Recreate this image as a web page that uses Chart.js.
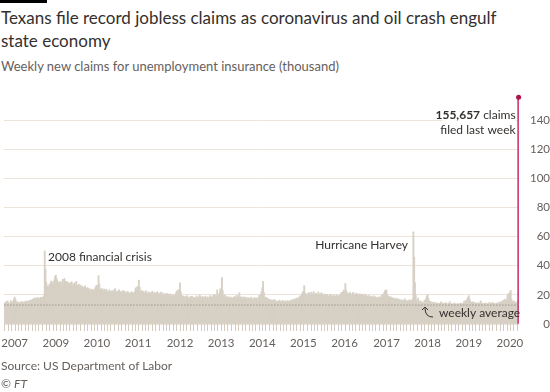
<!DOCTYPE html>
<html>
<head>
<meta charset="utf-8">
<script src="https://cdn.jsdelivr.net/npm/chart.js@4.4.1/dist/chart.umd.min.js"></script>
<style>
  html, body { margin: 0; padding: 0; background: #fff; }
  body { width: 550px; height: 392px; position: relative; overflow: hidden; font-family: Lato, 'Open Sans', sans-serif; }
  .topbar   { position: absolute; left: 0; top: 0; width: 47px; height: 3px; background: #000; }
  .title    { position: absolute; left: 1px; top: 6px; font-size: 17px; line-height: 23px; color: #33302e; }
  .subtitle { position: absolute; left: 1px; top: 57px; font-size: 13px; line-height: 18px; color: #66605c; }
  .chartBox { position: absolute; left: 0; top: 82px; width: 550px; height: 278px; }
  .source   { position: absolute; left: 1px; top: 357px; font-size: 12px; line-height: 18px; color: #66605c; }
  .source i { font-style: italic; }
</style>
</head>
<body>
<div class="topbar"></div>
<div class="title">Texans file record jobless claims as coronavirus and oil crash engulf<br>state economy</div>
<div class="subtitle">Weekly new claims for unemployment insurance (thousand)</div>
<div class="chartBox"><canvas id="claimsChart" width="550" height="278"></canvas></div>
<div class="source">Source: US Department of Labor<br>© <i>FT</i></div>

<script>
// ---- Data (thousand claims, one value per week, week ending Saturday) ----
// first week ends 6 Oct 2007
const firstWeekEnding = Date.UTC(2007, 9, 6);

const claims2007 = [14.6, 13.9, 15.2, 13.4, 15.8, 14.7, 14.1, 13.6, 16.0, 14.9, 15.4, 13.8, 17.2];
const claims2008 = [18.5, 16.9, 15.3, 14.6, 15.2, 14.4, 13.9, 15.0, 14.3, 15.5, 14.8, 13.7, 15.1,
  14.9, 15.8, 14.5, 15.3, 15.7, 14.9, 16.2, 15.4, 16.6, 16.0, 17.1, 16.3, 17.6, 17.9, 16.7, 17.4, 18.2,
  16.8, 17.7, 17.1, 18.4, 17.5, 17.9, 18.6, 19.4, 50.2, 37.5, 28.4, 24.6, 26.1, 24.2, 27.5, 25.8, 29.4,
  27.0, 28.8, 26.5, 30.2, 32.6];
const claims2009 = [33.5, 31.2, 29.8, 27.2, 28.6, 27.9, 29.4, 26.8, 28.1, 30.6, 27.4, 31.2, 28.9,
  29.3, 26.7, 28.8, 27.5, 26.4, 28.2, 27.1, 29.0, 25.8, 27.6, 26.2, 28.4, 27.0, 29.1, 26.5, 25.4, 27.3,
  25.1, 26.8, 24.6, 25.9, 24.2, 25.5, 23.8, 26.1, 24.4, 23.6, 25.0, 22.9, 24.3, 23.1, 22.4, 24.0, 23.3,
  21.8, 23.7, 22.5, 24.9, 26.2];
const claims2010 = [26.5, 24.1, 33.2, 27.4, 23.6, 22.8, 24.5, 23.1, 22.2, 24.0, 21.7, 22.9, 23.8,
  21.5, 22.6, 20.9, 23.4, 22.1, 21.3, 22.8, 20.6, 23.2, 21.9, 24.3, 22.0, 21.1, 22.7, 20.8, 23.5, 21.6,
  22.4, 20.5, 21.8, 23.0, 21.2, 22.5, 20.4, 21.9, 20.7, 22.3, 21.0, 19.8, 21.5, 20.3, 22.1, 20.9, 21.4,
  20.2, 22.6, 24.8, 23.1, 25.7];
const claims2011 = [24.6, 30.1, 25.2, 22.4, 21.8, 23.0, 20.9, 22.2, 21.5, 20.6, 22.8, 21.1, 20.3,
  22.0, 21.4, 19.9, 21.7, 20.5, 22.6, 21.0, 20.2, 21.8, 19.7, 20.9, 22.1, 20.4, 21.3, 19.8, 20.7, 21.9,
  20.1, 19.5, 21.2, 20.0, 19.3, 20.8, 19.6, 21.0, 19.4, 20.3, 19.0, 20.6, 19.2, 18.8, 20.1, 19.5, 18.7,
  19.9, 21.4, 22.7, 20.5, 23.6, 22.8];
const claims2012 = [28.3, 22.1, 19.6, 18.4, 19.2, 17.8, 18.9, 17.5, 18.6, 19.4, 17.9, 18.2, 17.1,
  18.8, 17.6, 19.0, 17.3, 18.5, 17.0, 18.1, 17.7, 19.3, 18.0, 17.4, 18.7, 19.8, 18.3, 17.2, 18.9, 17.8,
  18.4, 17.6, 19.1, 18.0, 17.5, 18.6, 17.3, 18.2, 19.5, 18.8, 17.9, 18.5, 19.7, 18.1, 20.3, 18.7, 19.2,
  23.4, 18.6, 19.9, 21.6, 24.2];
const claims2013 = [22.5, 31.8, 23.0, 19.4, 18.6, 19.9, 18.1, 17.7, 18.9, 17.4, 18.3, 17.0, 18.6,
  17.8, 16.9, 18.2, 17.5, 19.1, 17.2, 18.0, 19.6, 17.9, 18.4, 21.5, 18.8, 17.6, 18.3, 17.1, 18.7, 17.4,
  17.9, 18.5, 17.2, 16.8, 18.1, 17.5, 16.9, 17.8, 18.4, 17.0, 16.7, 17.6, 18.2, 16.9, 17.4, 18.0, 16.6,
  17.3, 19.6, 18.2, 20.4, 22.1];
const claims2014 = [24.8, 29.2, 21.6, 18.2, 17.1, 18.4, 16.8, 17.5, 16.2, 17.0, 15.9, 16.6, 15.4,
  16.3, 15.8, 16.9, 15.2, 16.0, 15.6, 14.9, 15.7, 15.1, 16.4, 14.8, 15.5, 15.0, 16.2, 14.7, 15.3, 15.9,
  14.6, 15.4, 16.1, 15.0, 15.7, 14.9, 16.3, 15.6, 16.8, 16.0, 16.5, 17.2, 16.4, 17.6, 16.9, 17.9, 17.3,
  18.6, 19.4, 18.1, 20.5, 21.8];
const claims2015 = [22.4, 26.3, 21.2, 19.8, 20.6, 19.1, 20.9, 21.5, 19.6, 20.3, 21.8, 19.4, 20.7,
  22.2, 20.0, 19.3, 21.1, 20.5, 19.7, 21.9, 20.2, 19.0, 20.8, 21.4, 19.5, 20.1, 19.2, 20.6, 18.9, 19.8,
  20.4, 19.1, 18.7, 19.6, 20.3, 18.8, 19.4, 18.5, 19.9, 18.9, 19.3, 18.6, 20.1, 19.0, 18.4, 19.7, 18.8,
  20.5, 21.7, 19.6, 22.0, 23.3];
const claims2016 = [21.4, 27.8, 22.9, 20.5, 21.3, 19.9, 20.8, 21.6, 20.2, 19.5, 20.9, 21.7, 20.1,
  19.3, 20.6, 21.2, 19.7, 20.4, 19.0, 20.8, 19.5, 20.2, 18.8, 19.9, 20.5, 18.9, 19.4, 20.1, 18.6, 19.2,
  18.4, 19.6, 18.7, 18.2, 19.1, 17.9, 18.5, 19.3, 17.8, 18.6, 18.0, 17.6, 18.3, 17.4, 18.8, 17.7, 18.1,
  19.9, 18.4, 20.2, 21.5, 22.6, 23.4];
const claims2017 = [23.1, 20.4, 19.2, 18.6, 17.9, 18.8, 17.3, 18.1, 17.6, 16.9, 17.8, 16.5, 17.2,
  16.8, 17.5, 16.3, 17.0, 16.6, 15.9, 16.7, 16.1, 15.7, 16.4, 17.3, 15.8, 16.2, 15.5, 16.0, 15.3, 16.6,
  15.8, 16.4, 15.6, 17.1, 63.2, 45.8, 28.4, 19.6, 16.2, 14.9, 17.8, 15.4, 14.6, 15.9, 14.2, 15.1, 13.8,
  14.7, 16.3, 15.0, 17.4, 19.2];
const claims2018 = [20.1, 17.6, 15.8, 14.9, 15.5, 14.2, 15.0, 14.6, 13.9, 14.8, 14.1, 13.6, 14.5,
  13.8, 14.3, 13.4, 14.0, 15.2, 13.7, 14.4, 13.5, 14.2, 13.3, 14.7, 13.9, 13.2, 14.1, 13.6, 15.3, 13.8,
  13.4, 14.0, 13.1, 13.7, 14.4, 13.3, 13.9, 13.0, 13.6, 14.2, 13.2, 13.8, 14.5, 13.5, 14.1, 13.4, 15.6,
  14.3, 16.2, 15.1, 17.0, 18.3];
const claims2019 = [19.4, 17.2, 15.6, 14.8, 14.1, 15.3, 14.5, 13.9, 14.7, 13.6, 14.3, 13.8, 14.6,
  13.5, 14.2, 15.8, 13.7, 14.4, 13.3, 14.0, 13.6, 14.5, 13.4, 14.1, 13.2, 13.9, 14.8, 13.5, 14.3, 13.7,
  14.9, 13.6, 14.2, 13.4, 14.0, 13.3, 14.6, 13.8, 14.4, 15.2, 14.1, 14.7, 15.5, 14.3, 16.4, 14.8, 17.1,
  15.0, 16.6, 20.1, 18.4, 21.2];
const claims2020 = [21.4, 23.0, 17.2, 15.6, 14.9, 15.8, 14.3, 15.1, 14.6, 13.8, 16.5, 155.657];

const weeklyAverage = 13.0;
// year labels, in order, for the first week of each January (as printed on the original)
const yearLabels = ['2007', '2009', '2010', '2011', '2012', '2013', '2014', '2015', '2016', '2017', '2018', '2019', '2020'];
const yTicks = [0, 20, 40, 60, 80, 100, 120, 140];

// ---- Build weekly series ----
const allClaims = [].concat(claims2007, claims2008, claims2009, claims2010, claims2011, claims2012,
  claims2013, claims2014, claims2015, claims2016, claims2017, claims2018, claims2019, claims2020);
const lastIdx = allClaims.length - 1;
const weekDates = allClaims.map((_, i) => new Date(firstWeekEnding + i * 7 * 86400000));

const yearAt = {};
let k = 0;
weekDates.forEach((d, i) => {
  if (d.getUTCMonth() === 0 && d.getUTCDate() <= 7) yearAt[i] = yearLabels[k++];
});

const history = allClaims.map((v, i) => i === lastIdx ? null : v);
const latest  = allClaims.map((v, i) => i === lastIdx ? v : null);
const avgLine = allClaims.map(() => weeklyAverage);

const INK   = '#33302e';
const MUTED = '#66605c';
const FONT  = 'Lato, "Open Sans", sans-serif';
const TOP   = 82; // canvas offset on the page

// ---- Annotations, month ticks ----
const annotate = {
  id: 'annotate',
  afterDatasetsDraw(chart) {
    const ctx = chart.ctx;
    const xs = chart.scales.x, ys = chart.scales.y;
    const area = chart.chartArea;

    // monthly ticks below the baseline
    ctx.save();
    ctx.strokeStyle = '#d3cbc0';
    ctx.lineWidth = 1;
    weekDates.forEach((d, i) => {
      if (d.getUTCDate() > 7) return;
      const x = Math.round(xs.getPixelForValue(i)) + 0.5;
      ctx.beginPath();
      ctx.moveTo(x, area.bottom);
      ctx.lineTo(x, area.bottom + 7);
      ctx.stroke();
    });
    ctx.restore();

    const xLast = xs.getPixelForValue(lastIdx);

    ctx.save();
    ctx.textBaseline = 'alphabetic';
    // latest week label, with white box cutting the gridline
    ctx.fillStyle = '#fff';
    ctx.fillRect(xLast - 76, 106 - TOP, 73, 32);
    ctx.font = '12px ' + FONT;
    const tail = ' claims';
    const tailW = ctx.measureText(tail).width;
    ctx.fillStyle = INK;
    ctx.textAlign = 'right';
    ctx.fillText(tail, xLast - 3, 119 - TOP);
    ctx.font = 'bold 12px ' + FONT;
    ctx.fillText('155,657', xLast - 3 - tailW, 119 - TOP);
    ctx.font = '12px ' + FONT;
    ctx.fillText('filed last week', xLast - 3, 134 - TOP);

    // event labels
    ctx.textAlign = 'left';
    ctx.textBaseline = 'middle';
    ctx.fillText('2008 financial crisis', 48, 257 - TOP);
    ctx.textAlign = 'right';
    ctx.fillText('Hurricane Harvey', 408, 245 - TOP);
    ctx.textAlign = 'left';
    ctx.fillText('weekly average', 439, 313 - TOP);

    // curved arrow pointing at the average line
    const yAvg = ys.getPixelForValue(weeklyAverage);
    ctx.strokeStyle = INK;
    ctx.lineWidth = 1;
    ctx.beginPath();
    ctx.moveTo(433, yAvg + 12);
    ctx.quadraticCurveTo(425, yAvg + 12, 425, yAvg + 3);
    ctx.stroke();
    ctx.beginPath();
    ctx.moveTo(422, yAvg + 5);
    ctx.lineTo(425, yAvg + 2);
    ctx.lineTo(428, yAvg + 5);
    ctx.stroke();
    ctx.restore();
  }
};

const chart = new Chart(document.getElementById('claimsChart'), {
  type: 'bar',
  data: {
    labels: weekDates.map(d => d.toISOString().slice(0, 10)),
    datasets: [
      {
        type: 'line',
        data: latest,
        showLine: false,
        pointRadius: 2.5,
        pointBackgroundColor: '#b0124c',
        pointBorderWidth: 0,
        order: 0
      },
      {
        type: 'line',
        data: avgLine,
        borderColor: '#7d746d',
        borderWidth: 1,
        borderDash: [1, 2],
        pointRadius: 0,
        order: 1
      },
      {
        data: latest,
        backgroundColor: '#d0457a',
        barThickness: 2,
        grouped: false,
        order: 2
      },
      {
        data: history,
        backgroundColor: '#d7d0c5',
        barThickness: 1.2,
        grouped: false,
        order: 3
      }
    ]
  },
  options: {
    responsive: false,
    animation: false,
    devicePixelRatio: 1,
    layout: { padding: { left: 3, top: 6, right: 0, bottom: 0 } },
    plugins: { legend: { display: false }, tooltip: { enabled: false } },
    scales: {
      x: {
        type: 'category',
        offset: true,
        grid: { display: false },
        border: { display: false },
        afterFit: s => { s.height = 36; },
        ticks: {
          autoSkip: false,
          maxRotation: 0,
          minRotation: 0,
          padding: 4,
          color: MUTED,
          font: { family: FONT, size: 11.5 },
          callback: (v, i) => yearAt[i] || ''
        }
      },
      y: {
        position: 'right',
        min: 0,
        max: 160,
        afterBuildTicks: s => { s.ticks = yTicks.map(v => ({ value: v })); },
        afterFit: s => { s.width = 31; },
        grid: { color: '#ece3da', drawTicks: false },
        border: { display: false },
        ticks: {
          padding: 2,
          crossAlign: 'far',
          color: MUTED,
          font: { family: FONT, size: 11.5 }
        }
      }
    }
  },
  plugins: [annotate]
});
</script>
</body>
</html>
